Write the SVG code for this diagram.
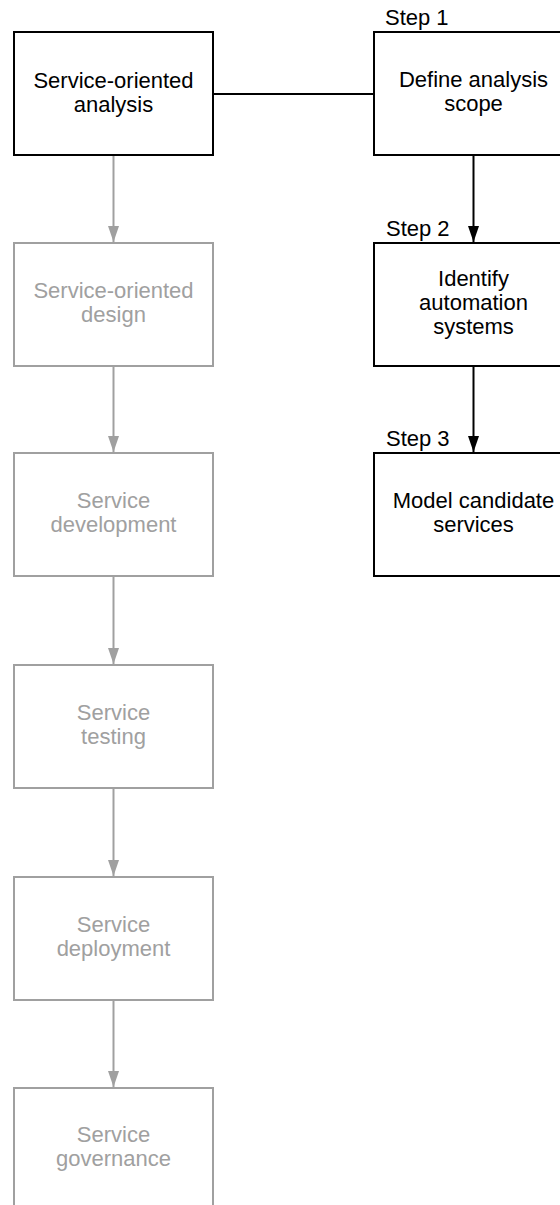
<svg xmlns="http://www.w3.org/2000/svg" width="560" height="1205" viewBox="0 0 560 1205">
<style>
.bk{fill:#fff;stroke:#000;stroke-width:2}
.gy{fill:#fff;stroke:#a0a0a0;stroke-width:2}
.t{font-family:"Liberation Sans",Arial,sans-serif;font-size:22px;text-anchor:middle}
.tb{fill:#000}
.tg{fill:#a0a0a0}
.st{font-family:"Liberation Sans",Arial,sans-serif;font-size:22px;fill:#000}
.lb{stroke:#000;stroke-width:2;fill:none}
.lg{stroke:#a0a0a0;stroke-width:2;fill:none}
</style>
<defs>
<marker id="ab" markerWidth="10" markerHeight="17" refX="10" refY="8.5" orient="auto" markerUnits="userSpaceOnUse" viewBox="0 0 17 11">
<path d="M0,0 L17,5.5 L0,11 Z" fill="#000"/>
</marker>
<marker id="ag" markerWidth="10" markerHeight="17" refX="10" refY="8.5" orient="auto" markerUnits="userSpaceOnUse" viewBox="0 0 17 11">
<path d="M0,0 L17,5.5 L0,11 Z" fill="#a0a0a0"/>
</marker>
<marker id="hb" viewBox="0 0 16 11" refX="16" refY="5.5" markerWidth="16" markerHeight="11" orient="auto" markerUnits="userSpaceOnUse">
<path d="M0,0 L16,5.5 L0,11 Z" fill="#000"/>
</marker>
<marker id="hg" viewBox="0 0 16 11" refX="16" refY="5.5" markerWidth="16" markerHeight="11" orient="auto" markerUnits="userSpaceOnUse">
<path d="M0,0 L16,5.5 L0,11 Z" fill="#a0a0a0"/>
</marker>
</defs>
<g id="connectors">
<line class="lb" x1="214" y1="94" x2="373" y2="94"/>
<line class="lb" x1="473.5" y1="155" x2="473.5" y2="242" marker-end="url(#hb)"/>
<line class="lb" x1="473.5" y1="366" x2="473.5" y2="452" marker-end="url(#hb)"/>
<line class="lg" x1="113.5" y1="155" x2="113.5" y2="242" marker-end="url(#hg)"/>
<line class="lg" x1="113.5" y1="366" x2="113.5" y2="452" marker-end="url(#hg)"/>
<line class="lg" x1="113.5" y1="576" x2="113.5" y2="664" marker-end="url(#hg)"/>
<line class="lg" x1="113.5" y1="788" x2="113.5" y2="876" marker-end="url(#hg)"/>
<line class="lg" x1="113.5" y1="1000" x2="113.5" y2="1087" marker-end="url(#hg)"/>
</g>
<g id="soa">
<rect class="bk" x="14" y="32" width="199" height="123"/>
<text class="t tb" x="113.5" y="88">Service-oriented</text>
<text class="t tb" x="113.5" y="112">analysis</text>
</g>
<g id="sod">
<rect class="gy" x="14" y="243" width="199" height="123"/>
<text class="t tg" x="113.5" y="298">Service-oriented</text>
<text class="t tg" x="113.5" y="322">design</text>
</g>
<g id="sdev">
<rect class="gy" x="14" y="453" width="199" height="123"/>
<text class="t tg" x="113.5" y="508">Service</text>
<text class="t tg" x="113.5" y="532">development</text>
</g>
<g id="stest">
<rect class="gy" x="14" y="665" width="199" height="123"/>
<text class="t tg" x="113.5" y="720">Service</text>
<text class="t tg" x="113.5" y="744">testing</text>
</g>
<g id="sdep">
<rect class="gy" x="14" y="877" width="199" height="123"/>
<text class="t tg" x="113.5" y="932">Service</text>
<text class="t tg" x="113.5" y="956">deployment</text>
</g>
<g id="sgov">
<rect class="gy" x="14" y="1088" width="199" height="123"/>
<text class="t tg" x="113.5" y="1142">Service</text>
<text class="t tg" x="113.5" y="1166">governance</text>
</g>
<g id="step1">
<text class="st" x="385" y="25">Step 1</text>
<rect class="bk" x="374" y="32" width="199" height="123"/>
<text class="t tb" x="473.5" y="87">Define analysis</text>
<text class="t tb" x="473.5" y="111">scope</text>
</g>
<g id="step2">
<text class="st" x="386" y="236">Step 2</text>
<rect class="bk" x="374" y="243" width="199" height="123"/>
<text class="t tb" x="473.5" y="286">Identify</text>
<text class="t tb" x="473.5" y="310">automation</text>
<text class="t tb" x="473.5" y="334">systems</text>
</g>
<g id="step3">
<text class="st" x="386" y="446">Step 3</text>
<rect class="bk" x="374" y="453" width="199" height="123"/>
<text class="t tb" x="473.5" y="508">Model candidate</text>
<text class="t tb" x="473.5" y="532">services</text>
</g>
</svg>
